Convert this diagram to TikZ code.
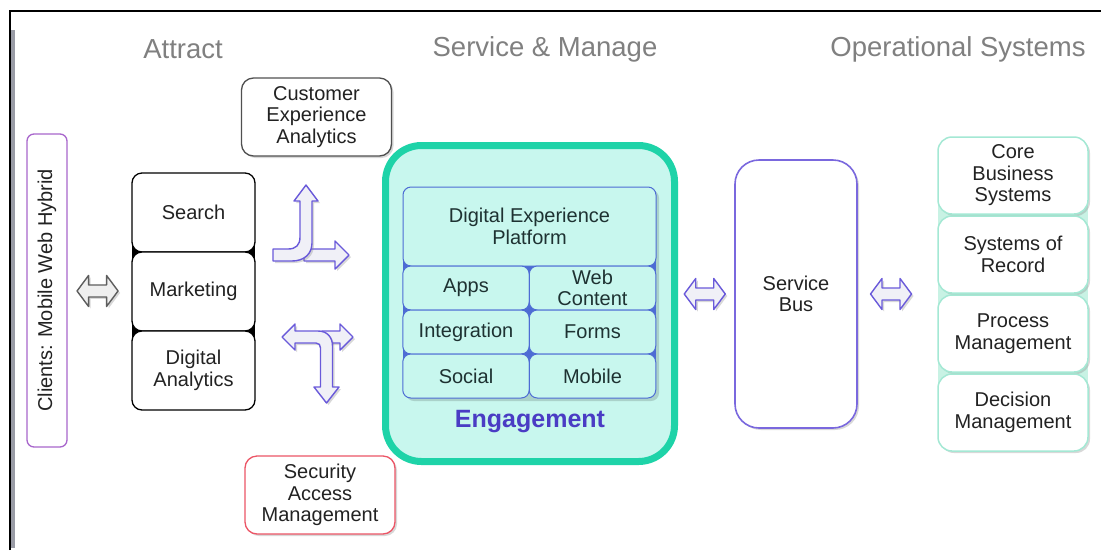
\documentclass[tikz,border=0pt]{standalone}
\usepackage{fontspec}
\setmainfont{Liberation Sans}
\usetikzlibrary{calc,shadows}
\definecolor{txt}{HTML}{222222}
\definecolor{celltxt}{HTML}{1E3232}
\definecolor{titlec}{HTML}{808080}
\definecolor{clientc}{HTML}{A866CC}
\definecolor{custc}{HTML}{505050}
\definecolor{secc}{HTML}{EC5566}
\definecolor{arrc}{HTML}{6A5ADA}
\definecolor{arrfill}{HTML}{F0F0F7}
\definecolor{greyarr}{HTML}{5E5E5E}
\definecolor{greyfill}{HTML}{EFEFEF}
\definecolor{engc}{HTML}{1ED3A8}
\definecolor{engfill}{HTML}{C8F7EE}
\definecolor{gridc}{HTML}{4D6CD4}
\definecolor{engtxt}{HTML}{4A3CC4}
\definecolor{busc}{HTML}{7A68DE}
\definecolor{sysc}{HTML}{A4E8D4}
\definecolor{sysgap}{HTML}{C8F2E4}
\definecolor{barc}{HTML}{9A9CA6}
\newcommand\mydbl[2]{\path[#1, shift={#2}] (-20.5,0) -- (-9,-15.5) -- (-9,-6) -- (9,-6) -- (9,-15.5) -- (20.5,0) -- (9,15.5) -- (9,6) -- (-9,6) -- (-9,15.5) -- cycle;}
\begin{document}
\begin{tikzpicture}[x=1pt,y=-1pt,
 every node/.style={font=\fontsize{20}{21.5}\selectfont, text=txt, align=center, inner sep=0pt, outer sep=0pt},
 titl/.style={font=\fontsize{27.5}{30}\selectfont, text=titlec},
 shad/.style={drop shadow={opacity=0.3, shadow xshift=2pt, shadow yshift=-2pt}},
 stackbox/.style={draw=black, fill=white, line width=1.3pt, rounded corners=10pt, minimum width=123pt, minimum height=79pt},
 callout/.style={fill=white, line width=1.3pt, rounded corners=12pt, minimum width=150pt, minimum height=78pt, shad},
 cell/.style={draw=gridc, fill=engfill, line width=1pt, rounded corners=8pt, minimum height=44pt, minimum width=126.5pt, text=celltxt},
 sysbox/.style={draw=sysc, fill=white, line width=1.5pt, rounded corners=14pt, minimum width=150pt, minimum height=77pt, shad},
 purplearr/.style={draw=arrc, fill=arrfill, line width=1.4pt, line join=round, shad},
 greyarrst/.style={draw=greyarr, fill=greyfill, line width=1.4pt, line join=round, shad}
]
\useasboundingbox (0,0) rectangle (1101,550);
\fill[white] (0,0) rectangle (1101,550);
% frame
\fill[barc] (9,30) rectangle (15,548);
\draw[line width=1.2pt] (10,550) -- (10,11) -- (1101,11);
% titles
\node[titl] (tA) at (183,49.5) {Attract};
\node[titl] (tS) at (545,49.5) {Service \& Manage};
\node[titl] (tO) at (958,49.5) {Operational Systems};
% clients
\node[draw=clientc, line width=1.3pt, rounded corners=7pt, minimum width=40pt, minimum height=313pt] (clients) at (47,290.5) {};
\node[rotate=90] (clientsl) at (clients.center) {Clients: Mobile Web Hybrid};
% attract stack
\fill[black] (132,183) rectangle (255,400);
\node[stackbox] (search) at (193.5,212.5) {Search};
\node[stackbox] (mkt) at (193.5,291.5) {Marketing};
\node[stackbox] (dig) at (193.5,370.5) {Digital\\Analytics};
% callouts
\node[callout, draw=custc] (cust) at (316.5,117) {Customer\\Experience\\Analytics};
\node[callout, draw=secc] (sec) at (320,495) {Security\\Access\\Management};
% elbow arrows (upper)
\path[purplearr] (304,249) -- (335,249) -- (335,241) -- (349,255) -- (335,269) -- (335,261) -- (304,261) -- cycle;
\path[purplearr] (273,249) -- (288,249) .. controls (296,249) and (300,245) .. (300,237) -- (300,201) -- (294,201) -- (306,185) -- (318,201) -- (312,201) -- (312,243) .. controls (312,254) and (304,261) .. (292,261) -- (273,261) -- cycle;
% elbow arrows (lower)
\path[purplearr] (322,331) -- (340,331) -- (340,324) -- (353,337) -- (340,350) -- (340,343) -- (322,343) -- cycle;
\path[purplearr] (282,337) -- (295,324) -- (295,331) -- (318,331) .. controls (327,331) and (332.5,337) .. (332.5,346) -- (332.5,387) -- (339,387) -- (326.5,403) -- (314,387) -- (320.5,387) -- (320.5,348) .. controls (320.5,345) and (319,343) .. (316,343) -- (295,343) -- (295,350) -- cycle;
% engagement
\node[draw=engc, fill=engfill, line width=7pt, rounded corners=36pt, minimum width=289pt, minimum height=316pt] (eng) at (530,303.5) {};
\fill[black, opacity=0.15, rounded corners=8pt] (406,190) rectangle (659,401);
\fill[gridc] (403,195) rectangle (656,390);
\node[cell, minimum width=253pt, minimum height=79pt] (dxp) at (529.5,226.5) {Digital Experience\\Platform};
\node[cell] (apps) at (466,288) {Apps};
\node[cell] (web) at (592.5,288) {Web\\Content};
\node[cell] (integ) at (466,332) {Integration};
\node[cell] (forms) at (592.5,332) {Forms};
\node[cell] (social) at (466,376) {Social};
\node[cell] (mobile) at (592.5,376) {Mobile};
\node[font=\fontsize{25}{27}\selectfont\bfseries, text=engtxt] (engl) at (530,422) {Engagement};
% service bus
\node[draw=busc, fill=white, line width=1.6pt, rounded corners=24pt, minimum width=122pt, minimum height=268pt, shad] (bus) at (796,294) {Service\\Bus};
% systems
\fill[sysgap] (938,150) rectangle (1088,438);
\node[sysbox] (core) at (1013,175.5) {Core\\Business\\Systems};
\node[sysbox] (sor) at (1013,254.5) {Systems of\\Record};
\node[sysbox] (pm) at (1013,333.5) {Process\\Management};
\node[sysbox] (dm) at (1013,412.5) {Decision\\Management};
% double arrows
\mydbl{greyarrst}{($(clients.east)!0.47!(mkt.west)$)}
\mydbl{purplearr}{($(eng.east |- bus.center)!0.5!(bus.west)$)}
\mydbl{purplearr}{($(bus.east)!0.42!(sor.west |- bus.east)$)}
\end{tikzpicture}
\end{document}
